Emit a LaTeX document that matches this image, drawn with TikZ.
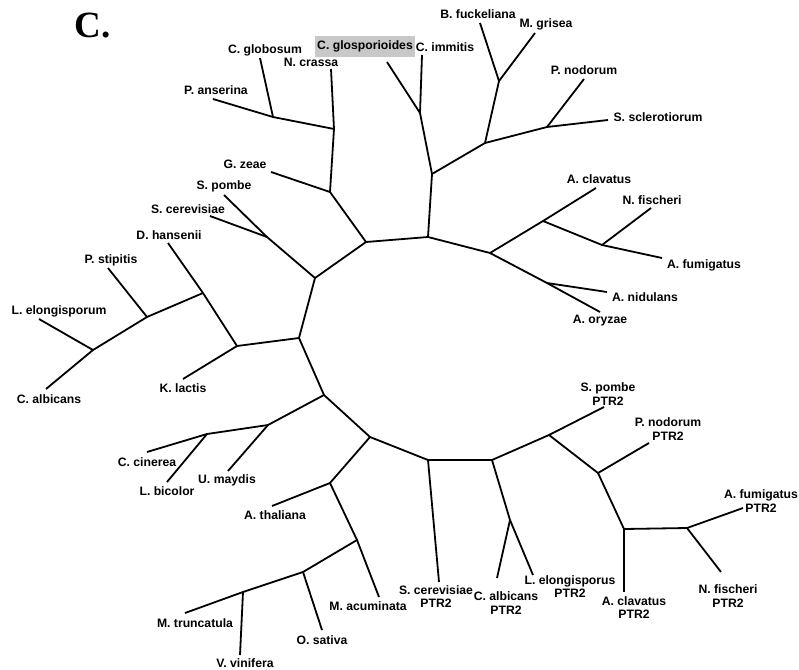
\documentclass[tikz,border=0pt]{standalone}
\usepackage{fontspec}
\setmainfont{Liberation Sans}
\newfontfamily\panelfont{Liberation Serif}
\definecolor{boxgray}{RGB}{200,200,200}

\begin{document}
\begin{tikzpicture}[x = 1pt, y = -1pt,
    branch/.style = {line width = 1.8pt, line join = round},
    lbl/.style = {font = \fontsize{12.2}{13.5}\selectfont\bfseries, inner sep = 0pt, align = center}]
  \useasboundingbox (0,0) rectangle (799,669);
  \node[font = \panelfont\fontsize{37}{37}\selectfont\bfseries, inner sep = 0pt] (panel) at (92.5,26) {C.};

  % branch points
  \coordinate (pa) at (273,117);
  \coordinate (nc) at (334,129);
  \coordinate (gz) at (330,192);
  \coordinate (cen) at (366,242);
  \coordinate (top) at (428,237);
  \coordinate (sp) at (267,237);
  \coordinate (yst) at (315,278);
  \coordinate (sac) at (299,338);
  \coordinate (kl) at (237,346);
  \coordinate (dh) at (203,293);
  \coordinate (ps) at (147,317);
  \coordinate (le) at (93,350);
  \coordinate (bas) at (324,395);
  \coordinate (basi) at (268,425);
  \coordinate (cc) at (207,434);
  \coordinate (pl) at (370,437);
  \coordinate (at) at (330,483);
  \coordinate (ma) at (357,540);
  \coordinate (os) at (303,572);
  \coordinate (mt) at (243,592);
  \coordinate (p1) at (428,460);
  \coordinate (p2) at (492,460);
  \coordinate (p3) at (510,520);
  \coordinate (p4) at (549,435);
  \coordinate (p5) at (598,473);
  \coordinate (p6) at (624,529);
  \coordinate (p7) at (687,528);
  \coordinate (asp) at (490,253);
  \coordinate (ac) at (543,221);
  \coordinate (nf) at (602,245);
  \coordinate (an) at (547,283);
  \coordinate (pez) at (432,174);
  \coordinate (ci) at (420,113);
  \coordinate (leo) at (485,143);
  \coordinate (bf) at (499,81);
  \coordinate (pn) at (547,127);

  % tips
  \coordinate (t-cglob) at (260,58);
  \coordinate (t-pans) at (213,99);
  \coordinate (t-ncr) at (331,69);
  \coordinate (t-gz) at (271,172);
  \coordinate (t-spom) at (224,195);
  \coordinate (t-scer) at (210,216);
  \coordinate (t-dh) at (168,243);
  \coordinate (t-kl) at (183,379);
  \coordinate (t-ps) at (108,268);
  \coordinate (t-le) at (39,319);
  \coordinate (t-cal) at (46,389);
  \coordinate (t-um) at (228,471);
  \coordinate (t-cc) at (147,452);
  \coordinate (t-lb) at (167,482);
  \coordinate (t-at) at (272,506);
  \coordinate (t-ma) at (379,597);
  \coordinate (t-os) at (322,630);
  \coordinate (t-mt) at (185,613);
  \coordinate (t-vv) at (240,655);
  \coordinate (t-scp) at (439,582);
  \coordinate (t-calp) at (497,578);
  \coordinate (t-lep) at (533,575);
  \coordinate (t-spp) at (604,407);
  \coordinate (t-pnp) at (649,443);
  \coordinate (t-acp) at (624,592);
  \coordinate (t-afp) at (743,508);
  \coordinate (t-nfp) at (721,572);
  \coordinate (t-acl) at (596,188);
  \coordinate (t-nf) at (651,208);
  \coordinate (t-af) at (662,258);
  \coordinate (t-an) at (607,292);
  \coordinate (t-ao) at (600,312);
  \coordinate (t-cim) at (422,55);
  \coordinate (t-cgl) at (387,62);
  \coordinate (t-bf) at (480,23);
  \coordinate (t-mg) at (535,33);
  \coordinate (t-pn) at (584,79);
  \coordinate (t-ss) at (608,120);

  % Labels
  \node[lbl, fill = boxgray, minimum width = 100pt, minimum height = 21pt] (l-cgl) at (365,46.5) {C. glosporioides};
  \node[lbl] (l-cglob) at (265,50.5) {C. globosum};
  \node[lbl] (l-ncr) at (311,62.5) {N. crassa};
  \node[lbl] (l-pans) at (216,90.5) {P. anserina};
  \node[lbl] (l-gz) at (245,164) {G. zeae};
  \node[lbl] (l-spom) at (224,186) {S. pombe};
  \node[lbl] (l-scer) at (188,209) {S. cerevisiae};
  \node[lbl] (l-dh) at (169,235) {D. hansenii};
  \node[lbl] (l-ps) at (111,260) {P. stipitis};
  \node[lbl] (l-le) at (59,311) {L. elongisporum};
  \node[lbl] (l-cal) at (49,399) {C. albicans};
  \node[lbl] (l-kl) at (183,388) {K. lactis};
  \node[lbl] (l-cc) at (147,462) {C. cinerea};
  \node[lbl] (l-lb) at (167,491) {L. bicolor};
  \node[lbl] (l-um) at (227,480) {U. maydis};
  \node[lbl] (l-at) at (275,515) {A. thaliana};
  \node[lbl] (l-ma) at (368,606) {M. acuminata};
  \node[lbl] (l-mt) at (195,623) {M. truncatula};
  \node[lbl] (l-os) at (322,640) {O. sativa};
  \node[lbl] (l-vv) at (245,663) {V. vinifera};
  \node[lbl] (l-cim) at (445,47) {C. immitis};
  \node[lbl] (l-bf) at (478,14) {B. fuckeliana};
  \node[lbl] (l-mg) at (546,24) {M. grisea};
  \node[lbl] (l-pn) at (584,70) {P. nodorum};
  \node[lbl] (l-ss) at (658,117) {S. sclerotiorum};
  \node[lbl] (l-acl) at (599,179) {A. clavatus};
  \node[lbl] (l-nf) at (652,200) {N. fischeri};
  \node[lbl] (l-af) at (704,265) {A. fumigatus};
  \node[lbl] (l-an) at (645,297) {A. nidulans};
  \node[lbl] (l-ao) at (600,321) {A. oryzae};
  \node[lbl] (l-spp) at (608,394) {S. pombe\\PTR2};
  \node[lbl] (l-pnp) at (668,429) {P. nodorum\\PTR2};
  \node[lbl] (l-afp) at (761,501) {A. fumigatus\\PTR2};
  \node[lbl] (l-scp) at (436,596.5) {S. cerevisiae\\PTR2};
  \node[lbl] (l-calp) at (506,603) {C. albicans\\PTR2};
  \node[lbl] (l-lep) at (570,586.5) {L. elongisporus\\PTR2};
  \node[lbl] (l-acp) at (634,607.5) {A. clavatus\\PTR2};
  \node[lbl] (l-nfp) at (728,596) {N. fischeri\\PTR2};

  % Branches
  \draw[branch] (t-cglob) -- (pa) -- (nc);
  \draw[branch] (t-pans) -- (pa);
  \draw[branch] (t-ncr) -- (nc) -- (gz) -- (cen) -- (top);
  \draw[branch] (t-gz) -- (gz);
  \draw[branch] (t-spom) -- (sp) -- (yst) -- (cen);
  \draw[branch] (t-scer) -- (sp);
  \draw[branch] (yst) -- (sac) -- (bas) -- (pl) -- (p1) -- (p2) -- (p4) -- (p5) -- (p6) -- (p7) -- (t-afp);
  \draw[branch] (sac) -- (kl) -- (t-kl);
  \draw[branch] (kl) -- (dh) -- (t-dh);
  \draw[branch] (dh) -- (ps) -- (t-ps);
  \draw[branch] (ps) -- (le) -- (t-le);
  \draw[branch] (le) -- (t-cal);
  \draw[branch] (bas) -- (basi) -- (t-um);
  \draw[branch] (basi) -- (cc) -- (t-cc);
  \draw[branch] (cc) -- (t-lb);
  \draw[branch] (pl) -- (at) -- (t-at);
  \draw[branch] (at) -- (ma) -- (t-ma);
  \draw[branch] (ma) -- (os) -- (t-os);
  \draw[branch] (os) -- (mt) -- (t-mt);
  \draw[branch] (mt) -- (t-vv);
  \draw[branch] (p1) -- (t-scp);
  \draw[branch] (p2) -- (p3) -- (t-calp);
  \draw[branch] (p3) -- (t-lep);
  \draw[branch] (p4) -- (t-spp);
  \draw[branch] (p5) -- (t-pnp);
  \draw[branch] (p6) -- (t-acp);
  \draw[branch] (p7) -- (t-nfp);
  \draw[branch] (top) -- (asp) -- (ac) -- (t-acl);
  \draw[branch] (ac) -- (nf) -- (t-nf);
  \draw[branch] (nf) -- (t-af);
  \draw[branch] (asp) -- (an) -- (t-an);
  \draw[branch] (an) -- (t-ao);
  \draw[branch] (top) -- (pez) -- (ci) -- (t-cim);
  \draw[branch] (ci) -- (t-cgl);
  \draw[branch] (pez) -- (leo) -- (bf) -- (t-bf);
  \draw[branch] (bf) -- (t-mg);
  \draw[branch] (leo) -- (pn) -- (t-pn);
  \draw[branch] (pn) -- (t-ss);
\end{tikzpicture}
\end{document}
